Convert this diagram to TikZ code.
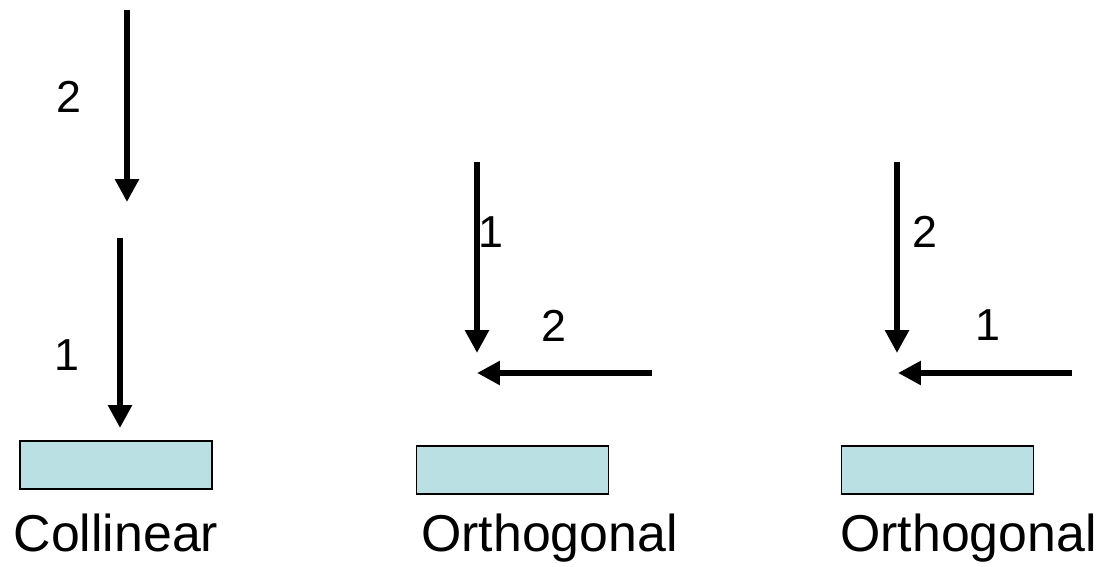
\documentclass[tikz,border=0pt]{standalone}
\usepackage{fontspec}
\setmainfont{Liberation Sans}
\usepackage{xcolor}
\usetikzlibrary{arrows.meta, positioning}
\definecolor{platefill}{RGB}{186,224,227}

\begin{document}
\begin{tikzpicture}[x=0.02cm, y=-0.02cm,
  num/.style={inner sep=0pt, font=\fontsize{25.5}{30}\selectfont},
  caption/.style={inner sep=0pt, anchor=base, font=\fontsize{29.5}{35}\selectfont},
  plate/.style={draw, line width=1pt, fill=platefill, minimum width=3.84cm, minimum height=0.96cm, inner sep=0pt},
  force/.style={-{Triangle[length=13pt, width=13pt]}, line width=3.7pt}
]
  \useasboundingbox (0,0) rectangle (1106,567);

  % collinear
  \coordinate (ca) at (127,10);
  \coordinate (cb) at (127,202);
  \coordinate (cc) at (120,238);
  \coordinate (cd) at (120,428);
  \node[num] (cn2) at (69,97) {2};
  \node[num] (cn1) at (67,355) {1};
  \node[plate] (cbar) at (116,465) {};
  \node[caption] (clab) at (116,551) {Collinear};

  % orthogonal, 1 then 2
  \coordinate (oa) at (477,162);
  \coordinate (ob) at (477,353);
  \coordinate (oc) at (652,373);
  \coordinate (od) at (477,373);
  \node[num] (on1) at (491,232) {1};
  \node[num] (on2) at (554,326) {2};
  \node[plate] (obar) at (512.5,470) {};
  \node[caption] (olab) at (549.5,551) {Orthogonal};

  % orthogonal, 2 then 1
  \coordinate (pa) at (897,162);
  \coordinate (pb) at (897,353);
  \coordinate (pc) at (1072,373);
  \coordinate (pd) at (898,373);
  \node[num] (pn2) at (925,232) {2};
  \node[num] (pn1) at (988,325) {1};
  \node[plate] (pbar) at (937.5,470) {};
  \node[caption] (plab) at (968.5,551) {Orthogonal};

  \draw[force] (ca) -- (cb);
  \draw[force] (cc) -- (cd);
  \draw[force] (oa) -- (ob);
  \draw[force] (oc) -- (od);
  \draw[force] (pa) -- (pb);
  \draw[force] (pc) -- (pd);
\end{tikzpicture}
\end{document}
